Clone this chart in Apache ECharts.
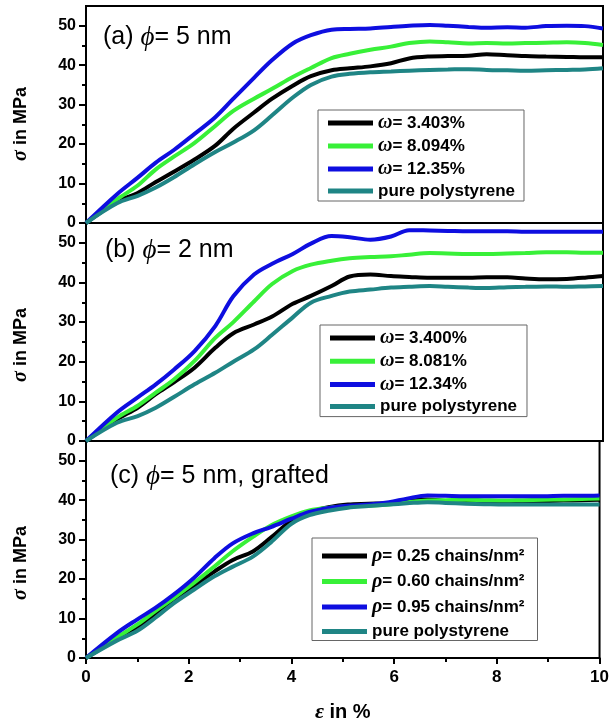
<!DOCTYPE html>
<html>
<head>
<meta charset="utf-8">
<script src="https://cdn.jsdelivr.net/npm/echarts@6/dist/echarts.min.js"></script>
<style>
  html, body { margin: 0; padding: 0; background: #fff; }
  #chart { width: 612px; height: 726px; }
</style>
</head>
<body>
<div id="chart"></div>
<script>
// Strain values (%) shared by every curve
const strain = [0, 0.6, 1.0, 1.35, 1.7, 2.1, 2.5, 2.85, 3.25, 3.6, 4.0, 4.35, 4.75, 5.1, 5.5, 5.9, 6.25, 6.65, 7.0, 7.4, 7.75, 8.15, 8.5, 8.9, 9.3, 9.65, 10];

// (a) phi = 5 nm, stress in MPa
const namesA = ['ω= 3.403%', 'ω= 8.094%', 'ω= 12.35%', 'pure polystyrene'];
const aBlack = [0, 5.4, 7.6, 10.4, 13.0, 16.1, 19.6, 23.9, 28.0, 31.5, 34.8, 37.2, 38.7, 39.2, 39.7, 40.5, 41.7, 42.2, 42.3, 42.4, 42.8, 42.5, 42.3, 42.2, 42.1, 42.0, 42.0];
const aGreen = [0, 6.0, 9.5, 13.6, 16.8, 20.3, 24.6, 28.4, 31.5, 34.0, 37.0, 39.3, 41.8, 42.9, 43.9, 44.7, 45.6, 46.0, 45.8, 45.5, 45.6, 45.5, 45.6, 45.7, 45.8, 45.6, 45.1];
const aBlue  = [0, 7.3, 11.5, 15.3, 18.5, 22.6, 26.8, 31.5, 36.8, 41.3, 45.5, 47.6, 49.0, 49.2, 49.3, 49.7, 50.0, 50.2, 50.0, 49.7, 49.5, 49.6, 49.5, 49.9, 50.0, 49.9, 49.3];
const aPure  = [0, 5.0, 6.9, 9.0, 11.6, 14.9, 18.0, 20.4, 23.5, 27.3, 31.8, 35.0, 37.1, 37.8, 38.2, 38.4, 38.6, 38.8, 38.9, 39.0, 38.8, 38.7, 38.6, 38.7, 38.8, 38.9, 39.2];

// (b) phi = 2 nm
const namesB = ['ω= 3.400%', 'ω= 8.081%', 'ω= 12.34%', 'pure polystyrene'];
const bBlack = [0, 5.5, 8.4, 11.8, 14.8, 18.5, 23.5, 27.2, 29.4, 31.4, 34.6, 36.6, 39.1, 41.5, 42.0, 41.6, 41.4, 41.2, 41.2, 41.2, 41.3, 41.3, 41.0, 40.8, 40.9, 41.2, 41.6];
const bGreen = [0, 5.9, 8.9, 12.2, 15.5, 20.2, 26.0, 30.0, 35.2, 39.6, 42.9, 44.5, 45.5, 46.1, 46.4, 46.6, 47.0, 47.4, 47.3, 47.2, 47.2, 47.3, 47.4, 47.6, 47.6, 47.5, 47.5];
const bBlue  = [0, 7.2, 11.0, 14.3, 18.0, 22.7, 29.0, 36.5, 42.0, 44.7, 47.2, 49.8, 51.7, 51.4, 50.8, 51.6, 53.2, 53.1, 53.0, 52.9, 52.9, 52.9, 52.8, 52.8, 52.8, 52.8, 52.8];
const bPure  = [0, 4.6, 6.3, 8.4, 11.1, 14.3, 17.2, 20.0, 23.1, 26.8, 31.2, 34.9, 36.6, 37.7, 38.2, 38.7, 38.9, 39.1, 38.9, 38.7, 38.6, 38.8, 38.9, 39.0, 38.9, 39.0, 39.1];

// (c) phi = 5 nm, grafted
const namesC = ['ρ= 0.25 chains/nm²', 'ρ= 0.60 chains/nm²', 'ρ= 0.95 chains/nm²', 'pure polystyrene'];
const cBlack = [0, 4.8, 7.7, 11.1, 14.6, 18.2, 21.9, 24.8, 27.0, 30.5, 34.8, 37.0, 38.3, 38.9, 39.1, 39.3, 39.8, 40.2, 39.8, 39.5, 39.6, 39.7, 39.8, 39.8, 39.9, 40.0, 40.1];
const cGreen = [0, 5.2, 8.5, 11.9, 15.1, 19.0, 23.2, 27.0, 30.7, 33.6, 35.9, 37.4, 38.1, 38.4, 38.6, 38.9, 39.5, 39.9, 40.0, 40.1, 40.0, 39.9, 40.0, 40.1, 40.2, 40.3, 40.4];
const cBlue  = [0, 6.3, 9.8, 12.7, 16.0, 20.3, 25.3, 29.0, 31.6, 33.2, 35.3, 37.0, 38.1, 38.6, 38.9, 39.5, 40.4, 41.2, 41.1, 41.0, 41.0, 41.0, 41.0, 41.0, 41.1, 41.1, 41.2];
const cPure  = [0, 4.4, 6.9, 10.2, 13.8, 17.3, 20.7, 23.1, 25.7, 29.3, 34.0, 36.2, 37.4, 38.1, 38.5, 38.9, 39.2, 39.5, 39.3, 39.1, 39.0, 38.9, 38.9, 38.9, 38.9, 38.9, 38.9];

// Axis ticks
const yMajor = [0, 10, 20, 30, 40, 50];
const yMinor = [5, 15, 25, 35, 45];

const colors = ['#000000', '#38f038', '#0e0ee0', '#1f8585'];
const SANS = 'Liberation Sans';
const SERIF = 'Liberation Serif';

const panels = [
  { names: namesA, data: [aBlack, aGreen, aBlue, aPure], top: 6, height: 217 },
  { names: namesB, data: [bBlack, bGreen, bBlue, bPure], top: 223, height: 218 },
  { names: namesC, data: [cBlack, cGreen, cBlue, cPure], top: 441, height: 217 }
];

const grids = [], xAxes = [], yAxes = [], series = [];
panels.forEach((p, i) => {
  const last = i === panels.length - 1;
  grids.push({ left: 86, width: 517, top: p.top, height: p.height, show: true,
    borderColor: '#000', borderWidth: 2, backgroundColor: 'transparent' });
  xAxes.push({
    gridIndex: i, type: 'value', min: 0, max: 10, interval: 2,
    axisLine: { show: true, onZero: false, lineStyle: { color: '#000', width: 2 } },
    axisTick: { show: last, length: 6, lineStyle: { color: '#000', width: 2 } },
    minorTick: { show: last, splitNumber: 2, length: 4, lineStyle: { color: '#000', width: 2 } },
    axisLabel: { show: last, margin: 11, color: '#000', fontFamily: SANS, fontWeight: 'bold', fontSize: 17 },
    splitLine: { show: false },
    name: last ? '{e|ε} in %' : '',
    nameLocation: 'middle', nameGap: 43,
    nameTextStyle: { color: '#000', fontFamily: SANS, fontWeight: 'bold', fontSize: 20,
      rich: { e: { fontFamily: SERIF, fontStyle: 'italic', fontWeight: 'bold', fontSize: 22, color: '#000' } } }
  });
  // labelled axis with major ticks
  yAxes.push({
    gridIndex: i, type: 'value', min: 0, max: 55,
    axisLine: { show: true, onZero: false, lineStyle: { color: '#000', width: 2 } },
    axisTick: { show: true, length: 7, customValues: yMajor, lineStyle: { color: '#000', width: 2 } },
    axisLabel: { show: true, margin: 10, customValues: yMajor, color: '#000',
      fontFamily: SANS, fontWeight: 'bold', fontSize: 16 },
    splitLine: { show: false }
  });
  // companion axis carrying the minor ticks
  yAxes.push({
    gridIndex: i, type: 'value', min: 0, max: 55, position: 'left',
    axisLine: { show: false },
    axisTick: { show: true, length: 4, customValues: yMinor, lineStyle: { color: '#000', width: 2 } },
    axisLabel: { show: false },
    splitLine: { show: false }
  });
  p.data.forEach((vals, k) => {
    series.push({
      name: p.names[k], type: 'line', xAxisIndex: i, yAxisIndex: 2 * i,
      data: strain.map((x, j) => [x, vals[j]]),
      smooth: 0.35, showSymbol: false, symbol: 'none',
      color: colors[k],
      lineStyle: { color: colors[k], width: 4 },
      z: 2 + k
    });
  });
});

const legendText = {
  color: '#000', fontFamily: SANS, fontWeight: 'bold', fontSize: 17, lineHeight: 18,
  rich: { g: { fontFamily: SERIF, fontStyle: 'italic', fontSize: 20, lineHeight: 18, color: '#000' } }
};
const legendFmt = n => n.replace(/^([ωρ])/, '{g|$1}');
function legendFor(names, left, top, gap, padding) {
  return {
    data: names, left: left, top: top, orient: 'vertical', icon: 'rect',
    itemWidth: 45, itemHeight: 5, itemGap: gap, padding: padding,
    borderColor: '#666', borderWidth: 1, backgroundColor: '#fff',
    selectedMode: false, formatter: legendFmt, textStyle: legendText
  };
}

const panelText = {
  color: '#000', fontFamily: SANS, fontSize: 25, fontWeight: 'normal',
  rich: {
    p: { fontFamily: SANS, fontSize: 25, color: '#000' },
    f: { fontFamily: SERIF, fontStyle: 'italic', fontSize: 27, color: '#000' },
    t: { fontFamily: SANS, fontSize: 25, color: '#000' }
  }
};

const yTitle = (y) => ({
  type: 'text', x: 21, y: y, rotation: Math.PI / 2,
  style: {
    text: '{s|σ} in MPa', align: 'center', verticalAlign: 'middle',
    fill: '#000', font: 'bold 18px "Liberation Sans"',
    rich: { s: { fontFamily: SERIF, fontStyle: 'italic', fontWeight: 'bold', fontSize: 20, fill: '#000' } }
  }
});

const chart = echarts.init(document.getElementById('chart'), null, { renderer: 'canvas' });
chart.setOption({
  animation: false,
  backgroundColor: '#fff',
  grid: grids,
  xAxis: xAxes,
  yAxis: yAxes,
  series: series,
  legend: [
    legendFor(namesA, 318, 110, 3, [3, 9, 1, 10]),
    legendFor(namesB, 320, 325, 3.2, [3, 10, 1, 10]),
    legendFor(namesC, 312, 538, 5.5, [8, 13, 0, 10])
  ],
  title: [
    { text: '{p|(a)} {f|ϕ}{t|= 5 nm}', left: 103, top: 24, padding: 0, textStyle: panelText },
    { text: '{p|(b)} {f|ϕ}{t|= 2 nm}', left: 105, top: 237, padding: 0, textStyle: panelText },
    { text: '{p|(c)} {f|ϕ}{t|= 5 nm, grafted}', left: 110, top: 463, padding: 0, textStyle: panelText }
  ],
  graphic: [yTitle(124), yTitle(345), yTitle(563)]
});
</script>
</body>
</html>
